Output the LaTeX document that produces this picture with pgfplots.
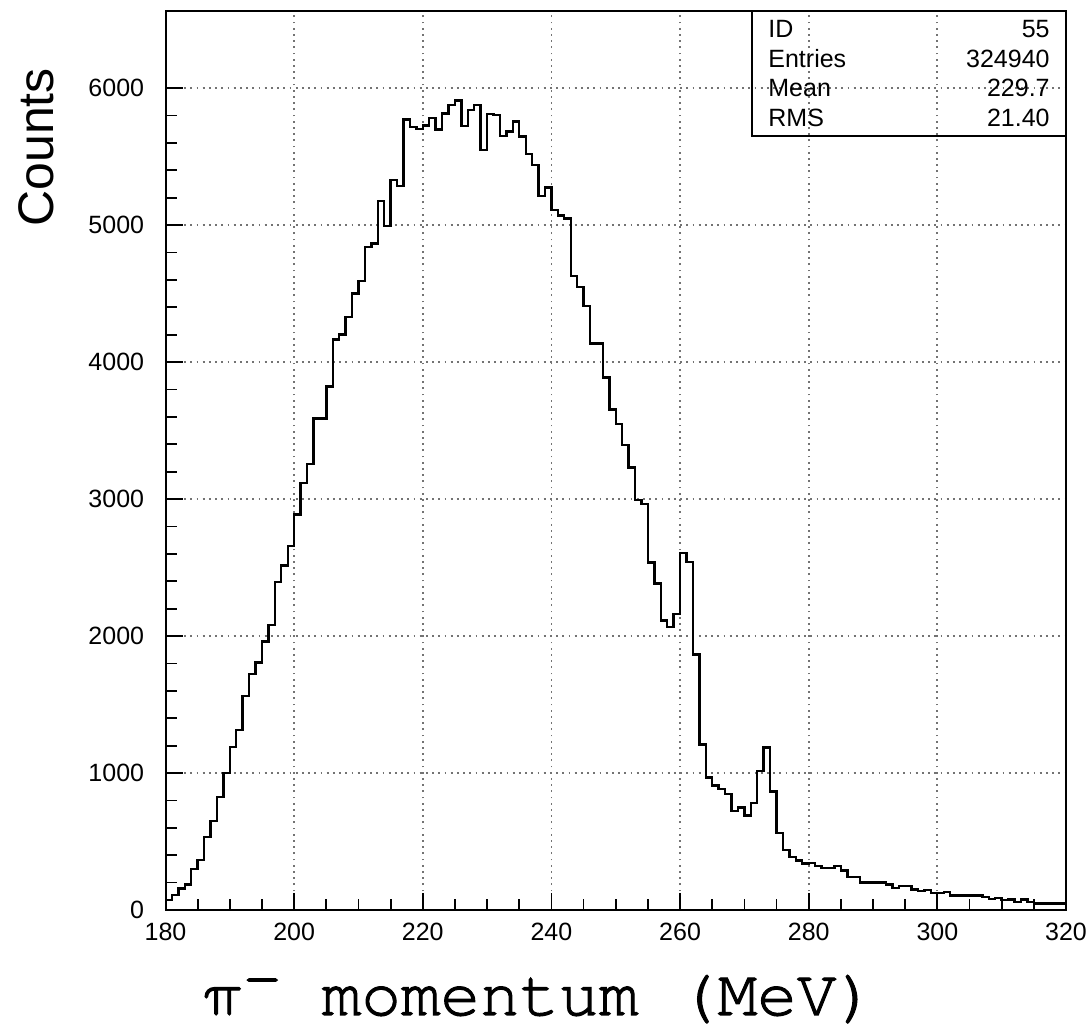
\documentclass[border=0pt]{standalone}
\usepackage{fontspec}
\setmainfont{Liberation Sans}
\newfontface\monofont[FakeBold=1.6]{TeX Gyre Cursor}
\usepackage{pgfplots}
\usepackage{pgfplotstable}
\pgfplotsset{compat=1.18}

\pgfplotstableread{
x y
180 75
181 110
182 158
183 185
184 300
185 364
186 531
187 651
188 827
189 1000
190 1188
191 1313
192 1561
193 1722
194 1806
195 1961
196 2081
197 2394
198 2516
199 2657
200 2887
201 3119
202 3254
203 3588
204 3588
205 3821
206 4164
207 4203
208 4328
209 4500
210 4592
211 4840
212 4865
213 5177
214 4993
215 5329
216 5287
217 5770
218 5715
219 5700
220 5728
221 5783
222 5698
223 5814
224 5878
225 5910
226 5724
227 5841
228 5878
229 5549
230 5812
231 5805
232 5651
233 5683
234 5756
235 5646
236 5520
237 5439
238 5212
239 5276
240 5110
241 5070
242 5049
243 4628
244 4547
245 4408
246 4135
247 4135
248 3888
249 3655
250 3547
251 3394
252 3231
253 2993
254 2964
255 2536
256 2384
257 2114
258 2066
259 2163
260 2608
261 2541
262 1864
263 1207
264 966
265 910
266 883
267 849
268 723
269 747
270 691
271 783
272 1015
273 1185
274 866
275 564
276 440
277 387
278 362
279 340
280 345
281 320
282 306
283 306
284 322
285 288
286 241
287 240
288 201
289 201
290 201
291 201
292 185
293 161
294 173
295 173
296 149
297 137
298 144
299 125
300 125
301 132
302 106
303 106
304 106
305 106
306 106
307 96
308 82
309 86
310 72
311 77
312 58
313 77
314 58
315 48
316 48
317 48
318 48
319 48
320 48
}\histdata

\begin{document}
\begin{tikzpicture}
\path[use as bounding box] (-82.75pt,-63pt) rectangle (462.75pt,455pt);
\begin{axis}[
  at={(0,0)}, anchor=south west,
  scale only axis, width=450.25pt, height=449.25pt,
  xmin=180, xmax=320, ymin=0, ymax=6560,
  xtick={180,200,...,320}, ytick={0,1000,...,6000},
  minor x tick num=3, minor y tick num=4,
  tick align=inside, xtick pos=bottom, ytick pos=left,
  major tick length=8.5pt, minor tick length=5.5pt,
  grid=major,
  major grid style={line width=0.9pt, black!55, dash pattern=on 0.9pt off 2.2pt},
  axis line style={line width=1pt},
  every tick/.style={black, line width=0.9pt},
  tick label style={font=\fontsize{12.5}{14}\selectfont, inner sep=0pt},
  yticklabel style={anchor=east, xshift=-10.5pt},
  xticklabel style={anchor=north, yshift=-6.5pt},
  /pgf/number format/assume math mode=true,
  /pgf/number format/1000 sep={},
  scaled ticks=false,
]
\addplot[const plot, line width=1.2pt, black] table[x=x, y=y] {\histdata};
\end{axis}
% statistics box
\draw[line width=1pt] (293.25pt,449.25pt) rectangle (450.25pt,387.15pt);
\begin{scope}[every node/.style={inner sep=0pt, font=\fontsize{12.5}{14}\selectfont}]
\node[anchor=base west] at (301.25pt,436pt) {ID};
\node[anchor=base east] at (442.25pt,436pt) {55};
\node[anchor=base west] at (301.25pt,421.25pt) {Entries};
\node[anchor=base east] at (442.25pt,421.25pt) {324940};
\node[anchor=base west] at (301.25pt,406.5pt) {Mean};
\node[anchor=base east] at (442.25pt,406.5pt) {229.7};
\node[anchor=base west] at (301.25pt,391.75pt) {RMS};
\node[anchor=base east] at (442.25pt,391.75pt) {21.40};
\end{scope}
% axis labels
\node[rotate=90, anchor=base, inner sep=0pt, font=\fontsize{25}{30}\selectfont] at (-56pt,381.25pt) {Counts};
\node[anchor=base, inner sep=0pt, font=\monofont\fontsize{33}{40}\selectfont] at (187pt,-52.5pt) {π\raisebox{0.25em}{-} momentum (MeV)};
\end{tikzpicture}
\end{document}
